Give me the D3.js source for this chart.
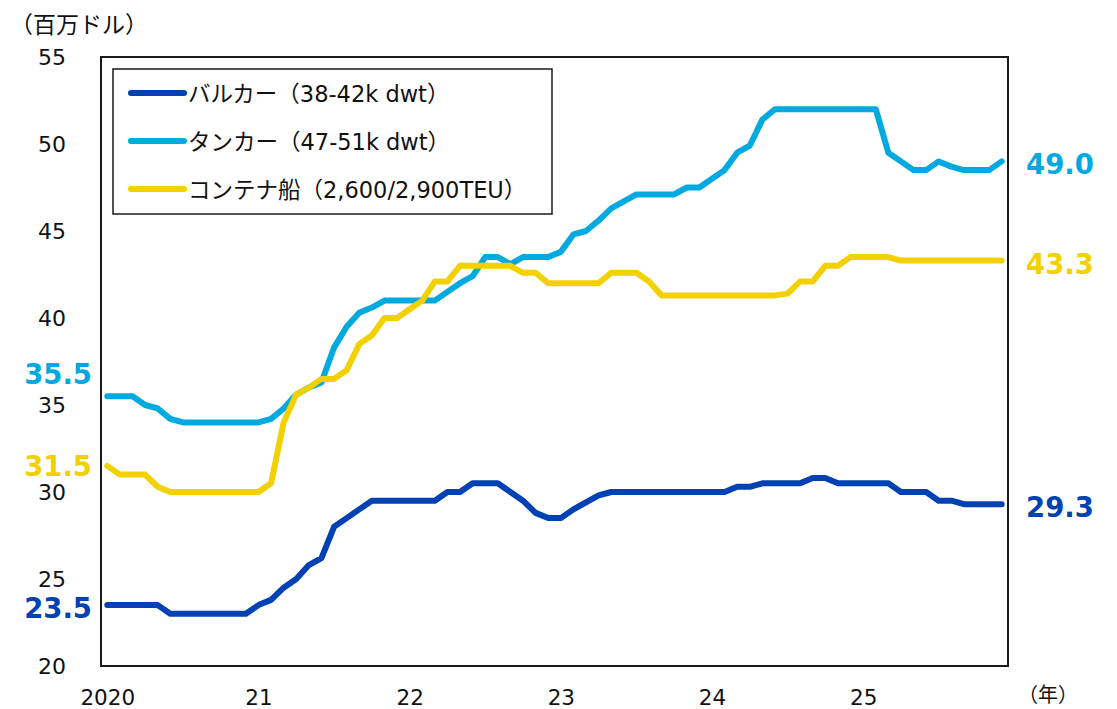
<!DOCTYPE html>
<html><head><meta charset="utf-8">
<script src="https://cdn.jsdelivr.net/npm/d3@7"></script>
<style>
html,body{margin:0;padding:0;background:#fff;}
svg{display:block;}
text{font-family:"DejaVu Sans","Noto Sans CJK JP",sans-serif;fill:#111;}
</style></head>
<body>
<svg id="c" width="1117" height="709"></svg>
<script>
// ---- data (monthly, Jan 2020 – Dec 2025) ----
const months = d3.range(72).map(i => `${2020 + Math.floor(i / 12)}-${String(i % 12 + 1).padStart(2, "0")}`);
const bulker = [23.5,23.5,23.5,23.5,23.5,23.0,23.0,23.0,23.0,23.0,23.0,23.0,
  23.5,23.8,24.5,25.0,25.8,26.2,28.0,28.5,29.0,29.5,29.5,29.5,
  29.5,29.5,29.5,30.0,30.0,30.5,30.5,30.5,30.0,29.5,28.8,28.5,
  28.5,29.0,29.4,29.8,30.0,30.0,30.0,30.0,30.0,30.0,30.0,30.0,
  30.0,30.0,30.3,30.3,30.5,30.5,30.5,30.5,30.8,30.8,30.5,30.5,
  30.5,30.5,30.5,30.0,30.0,30.0,29.5,29.5,29.3,29.3,29.3,29.3];
const tanker = [35.5,35.5,35.5,35.0,34.8,34.2,34.0,34.0,34.0,34.0,34.0,34.0,
  34.0,34.2,34.8,35.6,36.0,36.3,38.3,39.5,40.3,40.6,41.0,41.0,
  41.0,41.0,41.0,41.5,42.0,42.4,43.5,43.5,43.1,43.5,43.5,43.5,
  43.8,44.8,45.0,45.6,46.3,46.7,47.1,47.1,47.1,47.1,47.5,47.5,
  48.0,48.5,49.5,49.9,51.4,52.0,52.0,52.0,52.0,52.0,52.0,52.0,
  52.0,52.0,49.5,49.0,48.5,48.5,49.0,48.7,48.5,48.5,48.5,49.0];
const container = [31.5,31.0,31.0,31.0,30.3,30.0,30.0,30.0,30.0,30.0,30.0,30.0,
  30.0,30.5,34.0,35.6,36.0,36.5,36.5,37.0,38.5,39.0,40.0,40.0,
  40.5,41.0,42.1,42.1,43.0,43.0,43.0,43.0,43.0,42.6,42.6,42.0,
  42.0,42.0,42.0,42.0,42.6,42.6,42.6,42.1,41.3,41.3,41.3,41.3,
  41.3,41.3,41.3,41.3,41.3,41.3,41.4,42.1,42.1,43.0,43.0,43.5,
  43.5,43.5,43.5,43.3,43.3,43.3,43.3,43.3,43.3,43.3,43.3,43.3];
const seriesNames = ["バルカー（38-42k dwt）", "タンカー（47-51k dwt）", "コンテナ船（2,600/2,900TEU）"];
const seriesColors = ["#0041b4", "#00aae0", "#f3d100"];
const yTicks = [20, 25, 30, 35, 40, 45, 50, 55];
const xTickMonths = ["2020-01", "2021-01", "2022-01", "2023-01", "2024-01", "2025-01"];
const xTickLabels = ["2020", "21", "22", "23", "24", "25"];
const startLabels = ["23.5", "35.5", "31.5"];
const endLabels = ["29.3", "49.0", "43.3"];

const series = [bulker, tanker, container];

const svg = d3.select("#c");
const L = 101, R = 1008, T = 57, B = 666;
const x = d3.scalePoint().domain(months).range([L, R]).padding(0.5);
const y = d3.scaleLinear().domain([20, 55]).range([B, T]);

// y tick labels
const yAxis = d3.axisLeft(y).tickValues(yTicks).tickSize(0).tickPadding(35);
const gy = svg.append("g").attr("transform", `translate(${L},0)`).call(yAxis);
gy.select(".domain").remove();
gy.selectAll("text").attr("font-size", 22).attr("fill", "#111")
  .style("font-family", '"DejaVu Sans",sans-serif');

// x tick labels
const xAxis = d3.axisBottom(x).tickValues(xTickMonths)
  .tickFormat((d, i) => xTickLabels[i]).tickSize(0).tickPadding(24);
const gx = svg.append("g").attr("transform", `translate(0,${B})`).call(xAxis);
gx.select(".domain").remove();
gx.selectAll("text").attr("font-size", 21.5).attr("fill", "#111")
  .style("font-family", '"DejaVu Sans",sans-serif');

// frame
svg.append("rect").attr("x", L).attr("y", T).attr("width", R - L).attr("height", B - T)
  .attr("fill", "none").attr("stroke", "#1a1a1a").attr("stroke-width", 2);

// lines
const line = d3.line().x((d, i) => x(months[i])).y(d => y(d));
series.forEach((s, k) => {
  svg.append("path").datum(s).attr("d", line)
    .attr("fill", "none").attr("stroke", seriesColors[k]).attr("stroke-width", 6)
    .attr("stroke-linejoin", "round").attr("stroke-linecap", "round");
});

// start / end value labels
const startDy = [3, -22, 0];
series.forEach((s, k) => {
  svg.append("text").attr("x", 92).attr("y", y(s[0]) + startDy[k])
    .attr("text-anchor", "end").attr("dominant-baseline", "central")
    .attr("font-size", 27.5).attr("font-weight", "bold").style("fill", seriesColors[k])
    .text(startLabels[k]);
  svg.append("text").attr("x", 1026).attr("y", y(s[s.length - 1]) + 3)
    .attr("text-anchor", "start").attr("dominant-baseline", "central")
    .attr("font-size", 27.5).attr("font-weight", "bold").style("fill", seriesColors[k])
    .text(endLabels[k]);
});

// legend
const lg = svg.append("g");
lg.append("rect").attr("x", 113).attr("y", 69).attr("width", 439).attr("height", 145)
  .attr("fill", "#fff").attr("stroke", "#1a1a1a").attr("stroke-width", 1.5);
seriesNames.forEach((n, k) => {
  const yy = 93 + k * 48;
  lg.append("line").attr("x1", 131).attr("x2", 184).attr("y1", yy).attr("y2", yy)
    .attr("stroke", seriesColors[k]).attr("stroke-width", 6).attr("stroke-linecap", "round");
  lg.append("text").attr("x", 188).attr("y", yy + 1).attr("dominant-baseline", "central")
    .attr("font-size", 22.5).text(n);
});

// unit labels
svg.append("text").attr("x", 10).attr("y", 23).attr("dominant-baseline", "central")
  .attr("font-size", 23).style("font-family", '"Noto Sans CJK JP",sans-serif').text("（百万ドル）");
svg.append("text").attr("x", 1018).attr("y", 693).attr("dominant-baseline", "central")
  .attr("font-size", 20).style("font-family", '"Noto Sans CJK JP",sans-serif').text("（年）");
</script>
</body></html>
